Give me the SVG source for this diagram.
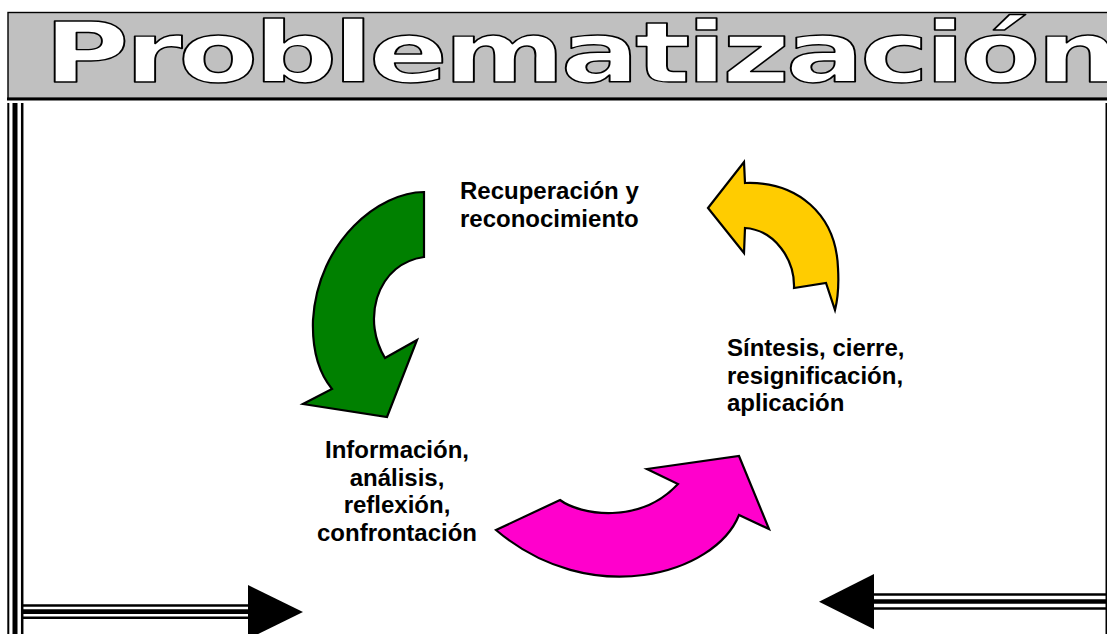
<svg xmlns="http://www.w3.org/2000/svg" width="1107" height="634" viewBox="0 0 1107 634">
<style>
.lbl{font-family:"Liberation Sans",Arial,sans-serif;font-weight:bold;font-size:24px;fill:#000}
.title{font-family:"DejaVu Sans","Liberation Sans",sans-serif;font-weight:bold;font-size:84px;letter-spacing:-3px;fill:#fff;stroke:#000;stroke-width:1.4px;stroke-linejoin:round}
.bl{stroke:#000;fill:none}
.cur{stroke:#000;stroke-width:2.2;stroke-linejoin:miter}
</style>
<rect width="1107" height="634" fill="#fff"/>
<g id="title">
<rect x="8" y="12.5" width="1110" height="86" fill="#c0c0c0" stroke="#000" stroke-width="1.4"/>
<line x1="7" y1="99" x2="1107" y2="99" class="bl" stroke-width="3"/>
<text class="title" transform="translate(44,82) scale(1.385,1)" x="0" y="0">Problematización</text>
</g>
<g id="page-border">
<line x1="8.3" y1="103" x2="8.3" y2="634" class="bl" stroke-width="2"/>
<line x1="15" y1="103" x2="15" y2="634" class="bl" stroke-width="5"/>
<line x1="22.2" y1="103" x2="22.2" y2="634" class="bl" stroke-width="2.5"/>
<line x1="1106.3" y1="103" x2="1106.3" y2="634" class="bl" stroke-width="1.6"/>
</g>
<g id="label-recuperacion">
<text class="lbl" x="460" y="199">Recuperación y</text>
<text class="lbl" x="460" y="226.6">reconocimiento</text>
</g>
<g id="label-sintesis">
<text class="lbl" x="727" y="356">Síntesis, cierre,</text>
<text class="lbl" x="727" y="383.6">resignificación,</text>
<text class="lbl" x="727" y="411.2">aplicación</text>
</g>
<g id="label-informacion" text-anchor="middle">
<text class="lbl" x="397" y="458">Información,</text>
<text class="lbl" x="397" y="485.6">análisis,</text>
<text class="lbl" x="397" y="513.2">reflexión,</text>
<text class="lbl" x="397" y="540.8">confrontación</text>
</g>
<g id="connectors">
<path id="arrow-green" class="cur" fill="#008000" d="M424,192 C380,192 318,240 313,320 C312,350 318,372 332,389 L303,404 L387,417 L417,340 L385,358 C374,340 371,318 377,298 C385,273 403,260 424,257 Z"/>
<path id="arrow-magenta" class="cur" fill="#ff00cc" d="M496,530 L560,500 C580,515 640,525 678,484 L647,469 L739,456 L769,529 L739,515 C715,575 590,610 496,530 Z"/>
<path id="arrow-yellow" class="cur" fill="#ffcc00" d="M708,208 L744,162 L745,183 C797,181 836,214 838,268 C839,285 838,298 835,310 L826,283 L794,288 C795,260 775,230 745,228 L744,253 Z"/>
</g>
<g id="arrow-left">
<line x1="23" y1="605.5" x2="249" y2="605.5" class="bl" stroke-width="2.4"/>
<line x1="23" y1="611.7" x2="249" y2="611.7" class="bl" stroke-width="4.7"/>
<line x1="23" y1="617.8" x2="249" y2="617.8" class="bl" stroke-width="2.4"/>
<polygon points="248,585 303,612 248,639" fill="#000"/>
</g>
<g id="arrow-right">
<line x1="873" y1="594.5" x2="1107" y2="594.5" class="bl" stroke-width="2.4"/>
<line x1="873" y1="601.5" x2="1107" y2="601.5" class="bl" stroke-width="4.7"/>
<line x1="873" y1="608.5" x2="1107" y2="608.5" class="bl" stroke-width="2.4"/>
<polygon points="874,574 819,601.7 874,629.3" fill="#000"/>
</g>
</svg>
